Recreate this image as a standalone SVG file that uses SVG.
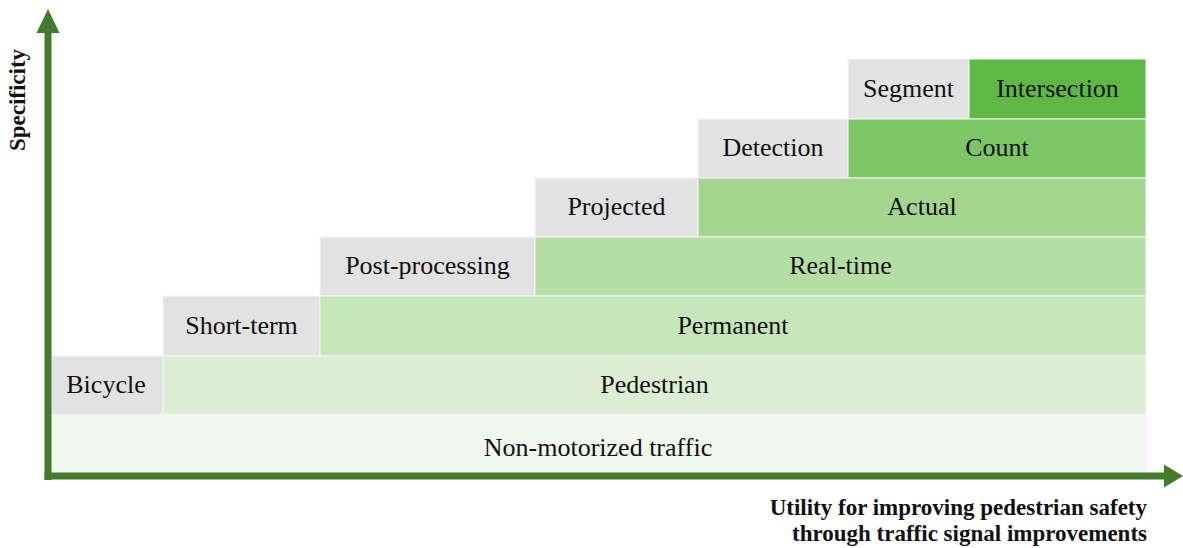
<svg xmlns="http://www.w3.org/2000/svg" width="1183" height="548" viewBox="0 0 1183 548">
  <style>
    .lbl { font-family: "Liberation Serif", "Times New Roman", serif; font-size: 26px; fill: #111; text-anchor: middle; }
    .axis-lbl { font-family: "Liberation Serif", "Times New Roman", serif; font-size: 23px; font-weight: bold; fill: #111; }
    .grey { fill: #e2e2e2; }
    .cell { stroke: #f6f6f6; stroke-width: 1; }
    .axis { stroke: #437a2c; stroke-width: 7; fill: none; }
  </style>
  <rect width="1183" height="548" fill="#ffffff"/>

  <!-- row 1 -->
  <g id="segment"><rect class="cell grey" x="848" y="59" width="121" height="60"/><text class="lbl" x="908.5" y="96.5">Segment</text></g>
  <g id="intersection"><rect class="cell" fill="#5fb845" x="969" y="59" width="177" height="60"/><text class="lbl" x="1057.5" y="96.5">Intersection</text></g>
  <!-- row 2 -->
  <g id="detection"><rect class="cell grey" x="698" y="119" width="150" height="59"/><text class="lbl" x="773" y="156">Detection</text></g>
  <g id="count"><rect class="cell" fill="#7dc668" x="848" y="119" width="298" height="59"/><text class="lbl" x="997" y="156">Count</text></g>
  <!-- row 3 -->
  <g id="projected"><rect class="cell grey" x="535" y="178" width="163" height="59"/><text class="lbl" x="616.5" y="215">Projected</text></g>
  <g id="actual"><rect class="cell" fill="#a3d58f" x="698" y="178" width="448" height="59"/><text class="lbl" x="922" y="215">Actual</text></g>
  <!-- row 4 -->
  <g id="post-processing"><rect class="cell grey" x="320" y="237" width="215" height="59"/><text class="lbl" x="427.5" y="274">Post-processing</text></g>
  <g id="real-time"><rect class="cell" fill="#b5dea5" x="535" y="237" width="611" height="59"/><text class="lbl" x="840.5" y="274">Real-time</text></g>
  <!-- row 5 -->
  <g id="short-term"><rect class="cell grey" x="163" y="296" width="157" height="60"/><text class="lbl" x="241.5" y="333.5">Short-term</text></g>
  <g id="permanent"><rect class="cell" fill="#c5e6b8" x="320" y="296" width="826" height="60"/><text class="lbl" x="733" y="333.5">Permanent</text></g>
  <!-- row 6 -->
  <g id="bicycle"><rect class="cell grey" x="51" y="356" width="112" height="59"/><text class="lbl" x="106" y="393">Bicycle</text></g>
  <g id="pedestrian"><rect class="cell" fill="#dbeed3" x="163" y="356" width="983" height="59"/><text class="lbl" x="654.5" y="393">Pedestrian</text></g>
  <!-- row 7 -->
  <g id="non-motorized"><rect class="cell" fill="#f0f7ec" x="51" y="415" width="1095" height="62"/><text class="lbl" x="598" y="455.5">Non-motorized traffic</text></g>

  <!-- axes -->
  <g id="connectors">
    <path class="axis" d="M48 480 V31"/>
    <polygon fill="#437a2c" points="48,9 36.5,33 59.5,33"/>
    <path class="axis" d="M44.5 476 H1166"/>
    <polygon fill="#437a2c" points="1183,476 1164,464.5 1164,487.5"/>
  </g>

  <g id="axis-labels">
    <text class="axis-lbl" transform="translate(25 100) rotate(-90)" text-anchor="middle">Specificity</text>
    <text class="axis-lbl" x="1147" y="515" text-anchor="end">Utility for improving pedestrian safety</text>
    <text class="axis-lbl" x="1147" y="541" text-anchor="end">through traffic signal improvements</text>
  </g>
</svg>
